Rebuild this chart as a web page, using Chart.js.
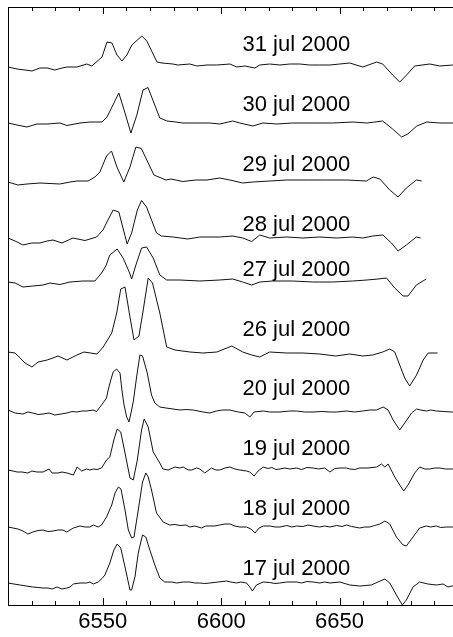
<!DOCTYPE html>
<html><head><meta charset="utf-8">
<script src="https://cdn.jsdelivr.net/npm/chart.js@4.4.1/dist/chart.umd.min.js"></script>
<style>html,body{margin:0;padding:0;background:#fff;overflow:hidden}#wrap{width:460px;height:637px}</style>
</head><body><div id="wrap"><canvas id="c" width="460" height="637"></canvas></div>
<script>
// ---- data ----
const dates = ["31 jul 2000","30 jul 2000","29 jul 2000","28 jul 2000","27 jul 2000","26 jul 2000","20 jul 2000","19 jul 2000","18 jul 2000","17 jul 2000"];
const offsets = [538, 482, 423, 368, 323, 253, 195, 135, 78, 22];
const labelLevels = [560, 500, 440, 380, 335, 275, 216, 156, 96, 36];
const xTickLabels = [6550, 6600, 6650];

const wave31 = [6510,6513.8,6517.2,6520.1,6523.5,6526.5,6529.8,6532.8,6534.9,6539.1,6543.3,6545.4,6549.7,6551.8,6553.9,6556,6558.1,6560.2,6562.3,6566.5,6568.6,6572.9,6575,6579.6,6581.7,6586.8,6589.7,6594,6598.2,6603.7,6606.6,6610,6612.1,6614.2,6616.3,6620.5,6624.8,6629,6633.2,6637.4,6641.6,6645.9,6650.1,6654.3,6659.8,6665.7,6668.2,6672.4,6675.4,6678.3,6681.7,6688.1,6692.3,6697.8,6700];
const flux31 = [0,-2,-3,-4,-1,-1,-3,-1,0,0,3,1,10,25,24,12,6,12,22,31,26,5,4,3,2,3,1,2,2,3,0,1,0,-1,2,3,2,3,3,2,2,2,3,4,0,5,3,-8,-15,-8,1,3,1,2,2];

const wave30 = [6510,6513.8,6518,6522.2,6526.5,6531.9,6534.9,6540.4,6544.6,6549.7,6551.8,6553.9,6556.8,6559.4,6561.9,6564.4,6567,6569.1,6574.1,6577.1,6580.9,6583.8,6586.8,6591,6595.2,6599.4,6604.9,6607.9,6613.4,6617.6,6623.5,6630.2,6638.7,6647.1,6655.6,6661.5,6668.2,6672.4,6676.2,6678.8,6682.6,6686.8,6692.3,6697.8,6700];
const flux30 = [0,-2,-4,-1,-1,0,-2.5,0,1,1,6,16,30,10,-10,8,33,35.5,5,2,1,0,0,0,0,-1,2,0,-3,0,-1,0,0,0,1,0,2,-6,-14,-11,-3,1,0,0,0];

const wave29 = [6510,6514.2,6518,6523.5,6531.9,6536.2,6539.1,6543.8,6546.7,6548.8,6551.6,6553.7,6556,6558.9,6561.5,6564,6566.3,6571.6,6576.7,6578.8,6583.8,6589.3,6594,6599.4,6603.7,6609.1,6613.4,6620.5,6627.7,6636.1,6644.6,6653,6661.3,6664.2,6667,6671.2,6674.7,6678.2,6682.4,6684.7];
const flux29 = [0,-3,-2,-1,-2,0,1,1,5,10,26,31,15,0,15,35,33.5,7,2,3,0.5,2,2,4,2,-1,0,1,2,2,2,2,1,5,3,-8,-15,-6,2,1];

const wave28 = [6510,6513,6516.3,6520.1,6523.5,6526.5,6529,6532.8,6537.4,6542.5,6547.4,6550.1,6552.2,6554.4,6556.8,6560.3,6562.2,6564.6,6566.4,6568.5,6572.7,6574.8,6579.7,6585.9,6591,6599.4,6604.9,6609.1,6612.9,6616.3,6620.5,6627.7,6634.5,6641.6,6648.8,6655.6,6659.8,6664,6668.3,6671.9,6674.7,6678.2,6682.4,6684.2];
const flux28 = [-1,-4,-8,-6,-6,-4,-3,-6,-1,-3.5,0,7,17,27,25,-7,4,27,36.5,30,4,1,0,-2,0,0,1,-1,-4.5,2,-1,0,-1,0,-1,0,-1,1,2,-6,-14,-8,0,-1];

const wave27 = [6510,6513,6516.3,6520.5,6524.8,6527.7,6531.9,6536.2,6541.6,6546.7,6549.5,6551.3,6553,6556.1,6558.6,6561.2,6562.2,6564,6566.4,6568.5,6571.3,6574.1,6577,6582.6,6591,6599.4,6604.9,6609.1,6612.9,6616.3,6621.8,6630.2,6638.7,6647.1,6655.6,6661.5,6666.2,6669.8,6673.3,6676.8,6678.9,6682.4,6686.6];
const flux27 = [0,-1,-5,-4,-3,-1,-2.5,0,1,1,9,16,27,33,24,10,3,17,34,35,24,7,2,2,1,2,3,0,-3,0,1,1,0,0,1,2,3,4,-6,-14,-14,-3,3];

const wave26 = [6510,6513,6517.2,6520.1,6522.7,6526.5,6529,6531.1,6534.9,6539.1,6542.1,6547.6,6550.2,6553.8,6555.9,6557.6,6559.4,6561.5,6563.2,6565.3,6567.1,6569.2,6571,6574.1,6577,6580.5,6586.8,6592.3,6598.2,6604.5,6609.1,6612.9,6616.3,6620.5,6627.7,6634.5,6641.6,6648.4,6654.3,6659.8,6664,6668.2,6671.2,6673.3,6675.4,6677.5,6679.6,6682.5,6685.3,6687.4,6691.4];
const flux26 = [0,-1,-11,-15,-10,-8,-6,-4,-8,-3,0,-2,5,19,39,63,65,35,12,16,42,74,69,39,5,2,0,-1,0,6,0,-3,-5,0,-1,-1,-2,-4,-2,-4,-3,0,3,0,-13,-26,-34,-23,-8,-1,-1];

const wave20 = [6510,6513,6516.3,6518.4,6520.5,6522.7,6524.8,6527.3,6529.8,6532.4,6534.9,6537,6539.1,6541.2,6543.3,6545.9,6547.4,6549.5,6551.6,6552.3,6553.4,6554.4,6555.8,6557.3,6558.1,6559,6560.1,6561.1,6562.2,6563,6564.3,6565.7,6566.8,6568.8,6570.6,6572,6574.1,6576.7,6579.7,6582.6,6585.1,6588.2,6592.4,6595.2,6598,6600.7,6603.7,6607.2,6610.1,6612.1,6613.9,6617.8,6620.5,6624.8,6629,6631.8,6635.3,6638.8,6642.5,6645.9,6648.8,6652.9,6656.4,6659.8,6662.7,6665.6,6668.4,6670.5,6672.6,6675.4,6677.5,6680.4,6682.5,6684.3,6686.7,6688.5,6690.9,6694,6697.3,6700];
const flux20 = [0,-3,-4,-2,-3,-4.5,-4,-3,-5,-4,-3,-1.5,-2,-1,-1,0,-1.5,5,12,20,30,38,41,37,20,5,-7,-12,0,10,33,55,54,37,15,7,3,2,1,0,0.5,0,-2,-3,-1,0,0,-2,-3,-7,-2,-1,-2,-2,-1,-1,-2,-2,-1.5,-2,-2,-1,-2,-1,0,0,3,0,-10,-20,-13,-3,1,0,-1,0,-1,-1.5,-2,-2];

const wave19 = [6510,6512.1,6513.8,6515.9,6518.4,6520.1,6522.2,6524.8,6527.3,6528.6,6531.1,6532.8,6534.9,6537.6,6539.2,6541.1,6543.2,6544.6,6546,6547.6,6549.5,6551.6,6553,6554.7,6556.1,6557.6,6559.4,6561.5,6562.9,6564.6,6566.4,6567.5,6569.2,6571.3,6574.1,6575.4,6577.6,6580.5,6582.6,6584,6586.1,6587.5,6589.6,6591,6593.1,6595.9,6597.8,6599.4,6601.6,6603.7,6605.8,6607.9,6610.7,6612.1,6613.9,6615.6,6617.8,6619.7,6621.4,6623.1,6624.8,6626.9,6629,6631.8,6634,6636.2,6638.8,6641.2,6643.7,6645.9,6648,6650.1,6652.9,6654.3,6656.4,6658.5,6662,6665.6,6667.7,6669.1,6670.5,6673.3,6675.4,6677.1,6678.9,6681.7,6683.8,6686,6688.1,6690.2,6692.3,6694.8,6697.3,6700];
const flux19 = [0,-1,-2,-2,-3,-1,-2,-2,1,-3,-3,-2,-3,-5,3,-1,1,0,1,0.5,2,10,13,30,41,38,17,-8,-10,10,40,51,43,18,7,1,0,3,2,3,0,0,2,1,-3,2,0,0,2,3,1,0,-1,-2,-6,-1,3,1.5,2.5,0.5,1,2,1,2,0.5,2.5,2,1,2,-2,1.5,2,2,1,0.5,2,2,3,6,3,6,-7,-15,-21,-15,-3,3,1,1,2,2,1,1,1];

const wave18 = [6510,6512.1,6514.2,6516.3,6518.4,6520.5,6522.7,6524.8,6526.9,6529,6531.1,6533.2,6534.8,6537.6,6540.4,6542.5,6544.6,6546,6548.1,6549.5,6551.6,6553.8,6555.2,6556.6,6557.7,6559.4,6560.8,6562.2,6563.2,6565,6566.8,6568.2,6569.2,6570.6,6572.7,6575.5,6578.3,6580.5,6582.6,6585.1,6586.8,6588.9,6591.7,6593.5,6595.2,6597.3,6599.4,6601.6,6603.7,6605.8,6607.9,6610.7,6612.6,6614.3,6616,6617.8,6620.7,6622.8,6624.8,6627.7,6629.8,6631.8,6634.5,6636.6,6638.8,6641.6,6643.7,6645.9,6648.8,6651,6652.9,6655.1,6658.5,6660.6,6662.7,6664.8,6667,6669.1,6671.2,6674,6676.8,6678.2,6681,6683.8,6686.6,6688.5,6690.9,6692.7,6695,6697.3,6700];
const flux18 = [0,-1,-2,-4,-7,-5,-3.5,-3,-4.5,-4,-3,-3,-5,-1,1,0,0,2,0,2,10,22,34,40,38,17,-3,-11,-10,17,45,54,50,37,14,5,2,2.5,1.5,2,0,1,-1,1,1,1,2,3,3,1,0,0,-2,-6,-1,1,1,0,0,1.5,0,1,0.5,2,1,0,1,0,1.5,0.5,2,0.5,-1,0,0,1.5,3,6,3,-10,-18,-19,-10,-1,1,0,1,-0.5,0,0,0];

const wave17 = [6510,6512.5,6515.1,6517.6,6520.5,6522.7,6524.8,6526.9,6528.6,6530.7,6532.8,6534.8,6536.2,6537.6,6540.4,6543.2,6544.6,6546,6548.1,6549.7,6550.9,6553,6554.7,6556.1,6557.6,6559.4,6561.5,6562.2,6563.6,6565,6566.8,6568.2,6569.9,6572,6574.1,6576.2,6579.1,6581.2,6584,6586.8,6588.9,6591,6593.1,6595.2,6598.7,6602.3,6604.1,6606.5,6608.3,6610.7,6612.1,6613.2,6614.9,6617.7,6620.5,6622.7,6624.8,6627.7,6631.8,6634,6636.2,6638.8,6641.6,6643.7,6645.9,6650.1,6654.3,6658.5,6663.4,6666.2,6669.1,6671.2,6674,6676.5,6678.2,6681,6683.8,6687.3,6690.9,6693.7,6695.8,6697.3,6700];
const flux17 = [0,-1,-2,-3,-4,-4.5,-5,-5,-6,-4,-6,-5,-4,-1,0,0,1,-1,1,4.5,8,20,33,39,35,16,-7,-7,6,30,48,46,33,18,5,1,1,0,1,1,0,0,-0.5,0,1,2,1,0,1,0,-4,-8,-2,1,0.5,-0.5,0,1,1,0,1.5,1,0,1,0,1,-2,-3,-2,1,4,0,-12,-22,-17,-4,1,-1,-2,-1,-4,-3,-3];

const waves = [wave31, wave30, wave29, wave28, wave27, wave26, wave20, wave19, wave18, wave17];
const fluxes = [flux31, flux30, flux29, flux28, flux27, flux26, flux20, flux19, flux18, flux17];

// ---- chart ----
const FONT = '"Liberation Sans", Arial, Helvetica, sans-serif';
const datasets = dates.map((d, k) => ({
  label: d,
  data: waves[k].map((w, i) => ({x: w, y: offsets[k] + fluxes[k][i]})),
  borderColor: '#111',
  borderWidth: 1,
  pointRadius: 0,
  tension: 0,
  fill: false
}));

const framePlugin = {
  id: 'frame',
  afterDatasetsDraw(chart) {
    const {ctx, chartArea: a, scales} = chart;
    const xs = scales.x, ys = scales.y;
    ctx.save();
    ctx.strokeStyle = '#000';
    ctx.lineWidth = 1;
    ctx.strokeRect(a.left + 0.5, a.top + 0.5, a.right - a.left, a.bottom - a.top);
    ctx.beginPath();
    for (let v = xs.min; v <= xs.max + 1e-6; v += 10) {
      const px = Math.round(xs.getPixelForValue(v)) + 0.5;
      const len = (v % 50 === 0) ? 7 : 4;
      ctx.moveTo(px, a.bottom); ctx.lineTo(px, a.bottom - len);
      ctx.moveTo(px, a.top); ctx.lineTo(px, a.top + len);
    }
    ctx.stroke();
    ctx.fillStyle = '#000';
    ctx.font = '22px ' + FONT;
    ctx.textAlign = 'left';
    ctx.textBaseline = 'middle';
    dates.forEach((d, k) => {
      ctx.fillText(d, xs.getPixelForValue(6609), ys.getPixelForValue(labelLevels[k]));
    });
    ctx.restore();
  }
};

new Chart(document.getElementById('c'), {
  type: 'line',
  data: {datasets},
  options: {
    responsive: false,
    devicePixelRatio: 1,
    animation: false,
    layout: {padding: {top: 7, left: 8, right: 2, bottom: 4}},
    plugins: {legend: {display: false}, tooltip: {enabled: false}},
    scales: {
      x: {
        type: 'linear', min: 6510, max: 6700,
        grid: {display: false, drawTicks: false},
        border: {display: false},
        afterBuildTicks: s => { s.ticks = xTickLabels.map(v => ({value: v})); },
        afterFit: s => { s.height = 28; },
        ticks: {padding: 6, maxRotation: 0, autoSkip: false, color: '#000',
                font: {family: FONT, size: 22, lineHeight: 1.0},
                callback: v => String(v)}
      },
      y: {type: 'linear', min: 0, max: 598, display: false}
    }
  },
  plugins: [framePlugin]
});
</script></body></html>
